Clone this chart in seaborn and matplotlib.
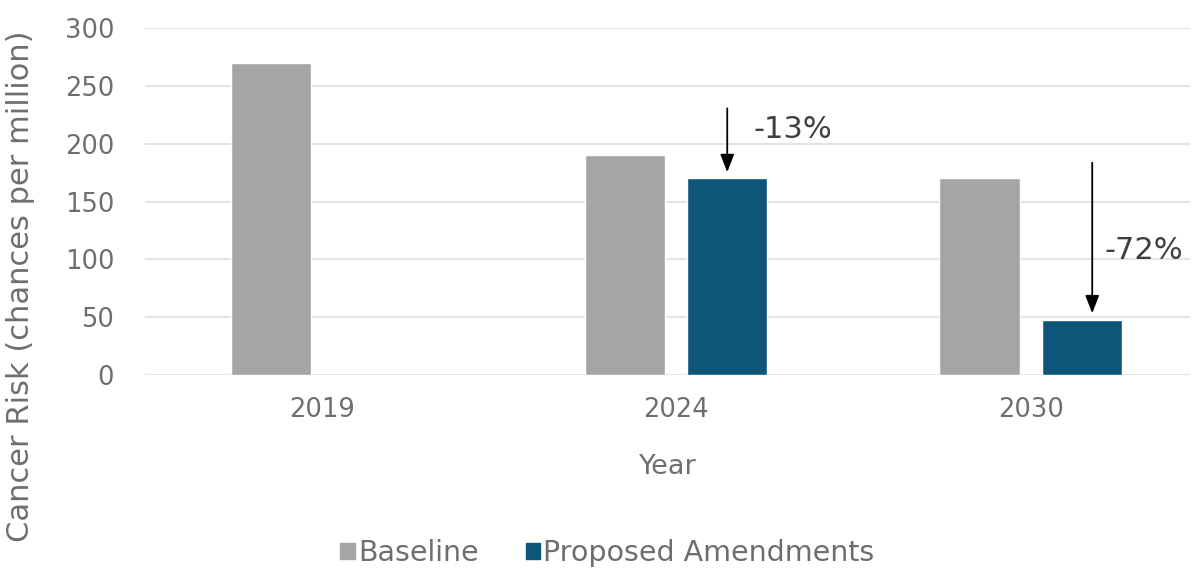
import numpy as np
import pandas as pd
import matplotlib.pyplot as plt
import seaborn as sns

years = ["2019", "2024", "2030"]
baseline = [270, 190, 170]
proposed = [np.nan, 170, 48]
series = ["Baseline", "Proposed Amendments"]
colors = ["#A5A5A5", "#0E5679"]
reductions = ["-13%", "-72%"]

df = pd.DataFrame({
    "Year": years * 2,
    "Risk": baseline + proposed,
    "Series": [series[0]] * 3 + [series[1]] * 3,
})

sns.set_theme(style="white")
plt.rcParams["font.family"] = ["DejaVu Sans"]

fig = plt.figure(figsize=(11.96, 5.73), dpi=100)
ax = fig.add_axes([0.121, 0.3455, 0.874, 0.6055])

sns.barplot(data=df, x="Year", y="Risk", hue="Series", palette=colors,
            width=0.576, gap=0.215, saturation=1, ax=ax, legend=False)

grey = "#6E6E6E"
ax.set_ylim(0, 300)
ax.set_xlim(-0.5, 2.45)
ax.set_yticks(range(0, 301, 50))
ax.yaxis.grid(True, color="#E4E4E4", linewidth=1.5)
ax.set_axisbelow(True)
for s in ax.spines.values():
    s.set_visible(False)
ax.tick_params(axis="both", colors=grey, labelsize=18.5, length=0)
ax.tick_params(axis="x", pad=16)
ax.tick_params(axis="y", pad=22)
ax.set_xlabel("Year", fontsize=19.5, color=grey, labelpad=22)
ax.set_ylabel("Cancer Risk (chances per million)", fontsize=22, color=grey)
ax.yaxis.set_label_coords(-0.105, 0.255)

# arrows above the proposed bars (NaN bar is skipped by seaborn)
valid_years = [y for y, v in zip(years, proposed) if not np.isnan(v)]
prop_bars = dict(zip(valid_years, ax.containers[1]))
arrow_specs = [("2024", 233, 212, 0.0, 0.075), ("2030", 186, 108, 0.03, 0.035)]
for (yr, y_start, y_text, dx, tx), txt in zip(arrow_specs, reductions):
    bar = prop_bars[yr]
    xc = bar.get_x() + bar.get_width() / 2 + dx
    top = bar.get_height()
    ax.annotate("", xy=(xc, top + 3), xytext=(xc, y_start),
                arrowprops=dict(arrowstyle="-|>,head_width=0.35,head_length=0.9",
                                color="black", linewidth=1.3))
    ax.text(xc + tx, y_text, txt, fontsize=22, color="#404040",
            ha="left", va="center")

handles = [plt.Rectangle((0, 0), 1, 1, color=c) for c in colors]
fig.legend(handles, series, loc="lower center", bbox_to_anchor=(0.508, -0.035),
           ncol=2, frameon=False, fontsize=20.5, handlelength=0.5, handleheight=0.5,
           handletextpad=0.12, columnspacing=1.65, labelcolor=grey)

fig.savefig("out.png", dpi=100)
